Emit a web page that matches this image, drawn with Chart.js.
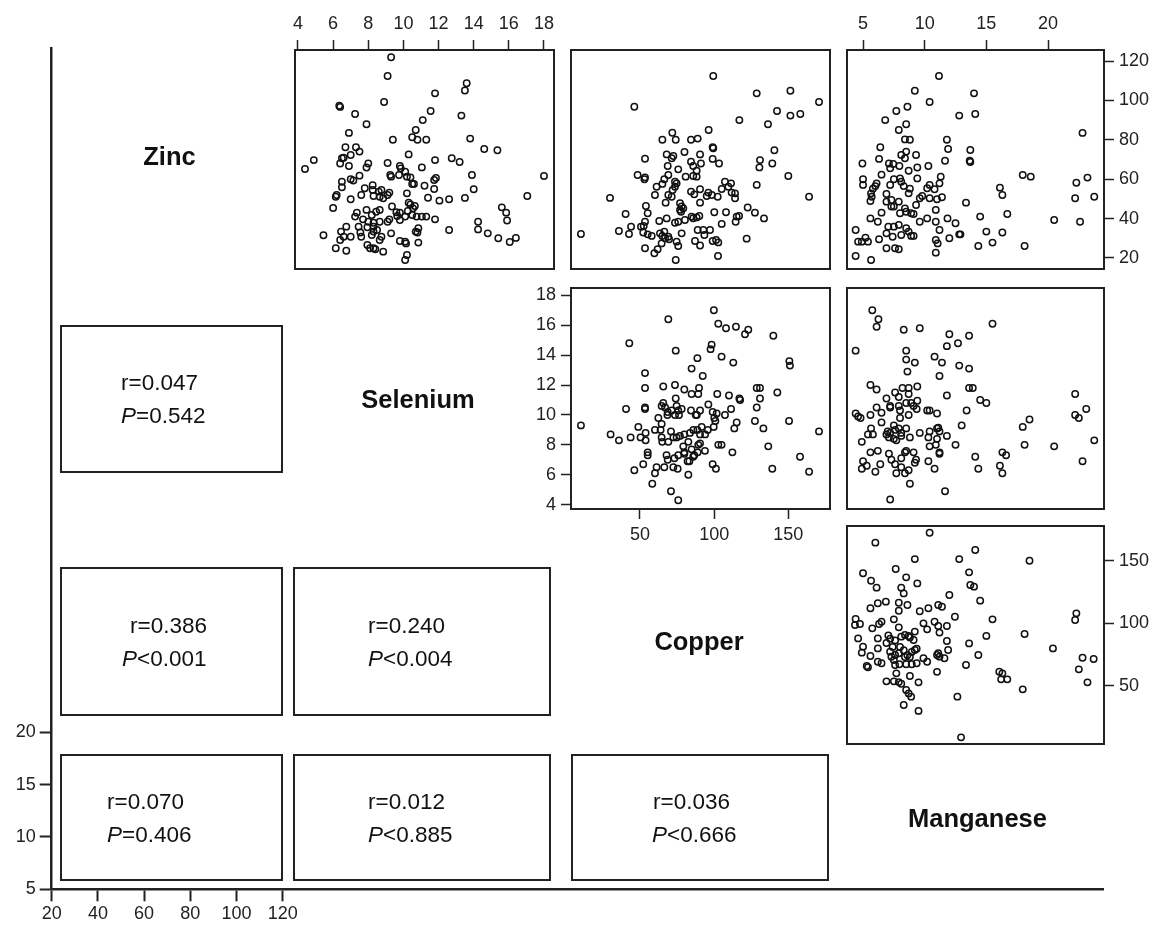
<!DOCTYPE html>
<html>
<head>
<meta charset="utf-8">
<script src="https://cdn.jsdelivr.net/npm/chart.js@4/dist/chart.umd.min.js"></script>
<style>
  html, body { margin: 0; padding: 0; background: #fff; overflow: hidden; }
  #page { position: relative; width: 1153px; height: 925px; font-family: "Liberation Sans", Arial, sans-serif; color: #111; }
  canvas { position: absolute; }
  .box { position: absolute; border: 2px solid #222; box-sizing: border-box; }
  .stat { position: absolute; font-size: 22.5px; line-height: 26px; white-space: nowrap; }
  .name { position: absolute; width: 240px; text-align: center; font-size: 25.5px; font-weight: bold; line-height: 30px; }
</style>
</head>
<body>
<div id="page"></div>
<script>
// variable names and the stats shown in the lower triangle
let variables = ["Zinc", "Selenium", "Copper", "Manganese"];
let stats = [
    {row: 1, col: 0, r: "0.047", p: "=0.542"},
    {row: 2, col: 0, r: "0.386", p: "<0.001"},
    {row: 2, col: 1, r: "0.240", p: "<0.004"},
    {row: 3, col: 0, r: "0.070", p: "=0.406"},
    {row: 3, col: 1, r: "0.012", p: "<0.885"},
    {row: 3, col: 2, r: "0.036", p: "<0.666"}
];

// tick labels
let seleniumTicks = [4, 6, 8, 10, 12, 14, 16, 18];
let zincTicks = [20, 40, 60, 80, 100, 120];
let copperTicks = [50, 100, 150];
let manganeseTicks = [5, 10, 15, 20];
let outerXTicks = [20, 40, 60, 80, 100, 120];
let outerYTicks = [5, 10, 15, 20];

// [selenium, zinc]
let zincSelenium = [[9.3,121.9],[9.1,112.4],[13.6,108.7],[13.5,105],[11.8,103.6],[8.9,99.2],[6.35,97.3],[6.4,96.7],[7.25,93.1],[11.55,94.6],[13.3,92.3],[11.1,90],[7.9,87.9],[6.9,83.5],[10.7,85],[10.5,81.3],[10.8,80],[11.3,80],[9.4,80],[13.8,80.6],[14.6,75.3],[15.35,74.7],[6.7,76.2],[7.3,76.2],[7.5,74],[7.0,72.3],[6.5,70.6],[6.6,70.9],[6.4,68],[6.9,66.7],[4.4,65.2],[4.9,69.7],[10.3,72.6],[8.0,68],[7.9,65.9],[9.1,68.2],[9.8,66.7],[9.85,65.5],[11.05,66],[11.8,69.7],[12.75,70.6],[13.2,68.7],[13.9,62.1],[14.0,54.9],[18.0,61.6],[17.05,51.5],[9.25,62.1],[9.3,61.3],[9.75,62.1],[10.1,63.8],[10.2,61.3],[10.4,60.9],[10.5,57.6],[10.6,57.6],[11.85,60.6],[11.75,59.6],[11.2,56.7],[11.75,55],[6.5,58.7],[7.0,60],[7.5,61.8],[7.15,59.3],[6.5,55.9],[6.2,52],[6.15,51.1],[7.6,52],[7.8,55.4],[8.25,56.9],[8.25,54.5],[8.6,53.7],[8.75,54.5],[8.65,51.1],[8.85,50.3],[9.1,52],[9.2,53.2],[8.3,51.5],[7.0,49.8],[6.0,45.4],[10.2,52.8],[10.3,48.1],[10.4,47.2],[10.65,46.4],[10.55,45.2],[10.25,43.9],[11.4,50.6],[12.05,49.1],[12.6,49.8],[13.5,50.5],[9.35,46.1],[9.6,43.2],[9.8,43],[9.65,41.3],[9.2,39.6],[9.1,38.4],[9.8,39.3],[10.1,41],[10.5,41.8],[10.75,41],[11.05,41],[11.3,41],[11.8,39.6],[7.35,43],[7.25,41],[7.7,39.6],[7.9,44.4],[8.2,41.8],[8.45,43.5],[8.65,44.4],[8.0,38.4],[8.3,37.9],[8.65,38.4],[8.3,35.9],[8.5,34.2],[7.95,35.6],[7.45,35.9],[7.55,32.9],[6.75,35.9],[6.45,33.4],[6.6,30.8],[7.0,30.8],[6.4,29.1],[6.15,24.9],[6.75,23.7],[7.6,30.8],[8.3,33.4],[8.2,31.7],[8.65,29.1],[8.75,30.8],[7.95,26.6],[8.1,24.9],[8.3,24.9],[8.4,24.4],[8.85,23.2],[9.3,32.5],[9.8,28.6],[10.1,28.3],[10.15,27.4],[10.85,27.8],[10.7,33.4],[10.8,32.9],[10.85,35.1],[10.2,21.5],[10.1,19],[5.45,31.5],[12.6,34.2],[15.6,45.7],[15.85,43],[15.9,39],[14.25,38.4],[14.25,34.5],[14.8,32.5],[15.4,30],[16.05,28.1],[16.4,30.2]];

// [copper, zinc]
let zincCopper = [[99.4,112.4],[128.7,103.6],[151.4,104.9],[170.7,99.2],[46.2,96.8],[142.4,94.6],[151.4,92.3],[158.1,93.1],[117,90],[136.3,87.9],[96.3,85],[71.8,83.6],[65.1,80],[74.1,80],[84.4,80],[88.9,80.6],[99,76.2],[99.4,75.7],[80,73.8],[140.6,74.7],[53.4,70.4],[68,72.6],[71.4,70.6],[72.5,71.8],[90.5,72.6],[99,70.3],[103.3,68],[84.4,68.9],[85.9,66.7],[91.1,68],[68.7,66.7],[75.8,65],[88.2,64.3],[130.9,69.7],[130.5,66],[139.2,68],[48.4,62.1],[53.4,60.9],[53,60],[69.1,62.1],[66.4,60],[73.6,58.7],[74.7,57.9],[80.8,61.3],[85.9,61.6],[88.2,61.3],[61.2,56.2],[60.1,52],[65.1,57.6],[73.6,56.2],[72,54.5],[69.1,52],[67.3,48.1],[71.4,51.1],[77,47.8],[78.1,46.1],[79.2,45.2],[84.4,53.7],[86.6,52.3],[90.5,54.9],[90.5,48.1],[95,51.5],[96.1,53.2],[98.4,52],[102.4,51.1],[107.3,58.7],[109.6,56.2],[111.4,57.9],[105.1,55],[111.8,53.2],[114.1,52.8],[114.1,50.3],[128.7,57.1],[150,61.6],[164,51.1],[29.8,50.5],[40.3,42.3],[54,46.4],[55.2,42.7],[53.4,38.4],[50.7,35.9],[52.5,36.2],[63,38.8],[68,40.1],[73.6,37.9],[75.8,38.4],[77,44.4],[77.7,43.5],[80.3,39.3],[84.8,41],[85.9,40.2],[88.2,40.6],[90,41.3],[100.1,43.2],[108,43.2],[105.1,37.3],[115.2,41],[116.8,41.3],[114.5,38.4],[122.6,45.6],[127.5,43],[133.6,40.1],[10.2,32.2],[35.8,33.7],[42.6,32.2],[44,35.9],[52.2,32.9],[57.9,31.2],[55.2,32],[65.1,31.2],[66.9,30],[69.1,30.8],[69.6,29.5],[64.6,27.4],[61.9,24.4],[59.7,22.4],[53.4,24.9],[78.1,32.5],[74.7,28.3],[75.8,26.1],[87.1,28.6],[88.9,34.2],[90.5,26.3],[92.7,34.2],[97.2,34.2],[93.4,31.7],[99,28.6],[101.3,29.1],[102.8,27.9],[121.9,29.8],[102.6,21],[74.1,19],[63.5,32.5],[66.4,33.4]];

// [manganese, zinc]
let zincManganese = [[11.16,112.4],[9.2,104.9],[14,103.6],[10.4,99.2],[8.6,96.8],[7.7,94.6],[6.8,90],[12.8,92.3],[14.1,93.1],[8.5,87.9],[7.9,85],[8.4,80.2],[8.8,80],[11.8,80],[6.4,76.2],[11.9,75.3],[13.7,74.8],[13.65,69.4],[13.7,68.7],[8.1,72.3],[8.5,74],[8.4,70.6],[9.3,72.3],[6.3,70.3],[4.95,68],[11.65,69.4],[10.3,66.7],[7.1,68],[7.45,67.7],[7.2,65.5],[7.95,66.7],[8.7,64.3],[9.4,65.9],[5.0,60],[5.0,57.1],[6.5,62.3],[6.1,57.9],[6.0,56.5],[5.8,55.2],[5.65,52.8],[5.7,51.1],[5.6,48.9],[7.2,57.1],[7.5,60],[8.0,60.4],[8.1,58.7],[8.3,56.5],[8.8,55.2],[8.7,52.8],[9.4,60.4],[11.3,61.3],[11.2,57.9],[10.4,57.1],[10.2,55.4],[10.8,54.9],[6.9,52.5],[6.9,48.6],[7.3,49.4],[7.5,46.1],[7.9,48.6],[7.3,46.1],[8.4,45.2],[8.0,42.7],[8.5,43.5],[8.9,42.7],[9.1,42.3],[9.3,46.9],[9.6,50.3],[9.8,51.5],[10.4,50.3],[11.0,49.8],[11.4,50.8],[9.6,38.4],[10.2,40.1],[10.9,44.4],[10.9,38.4],[5.6,40.1],[6.2,38.4],[6.5,43],[7.05,35.9],[7.5,35.9],[7.9,36.8],[8.5,35.1],[8.7,33.4],[9.1,31.2],[8.9,31.2],[8.1,31.7],[7.4,30.8],[6.9,32.5],[6.3,29.5],[6.9,24.9],[7.6,24.9],[7.9,24.4],[4.4,34.2],[4.6,28.3],[4.9,28.3],[5.4,28.3],[5.2,30.3],[4.4,21],[5.65,19],[11.2,34.2],[10.9,29.1],[11.05,27.4],[12.0,30],[12.5,37.6],[12.8,32],[12.9,32],[10.9,22.7],[11.85,40.1],[13.35,48.1],[14.5,41],[15.0,33.4],[15.5,27.8],[14.35,26.1],[16.1,55.7],[16.3,52],[16.7,42.3],[16.3,32.9],[17.95,62.1],[18.6,61.3],[18.1,26.1],[20.5,39.3],[22.3,58.2],[23.2,60.8],[22.2,50.3],[23.75,51.1],[22.6,38.4],[22.8,83.5]];

// [copper, selenium]
let seleniumCopper = [[99.8,17.0],[69.1,16.4],[102.8,16.1],[108,15.8],[114.7,15.9],[120.8,15.4],[123,15.7],[139.9,15.3],[42.8,14.8],[74.1,14.3],[98.3,14.7],[97.6,14.4],[105,13.9],[112.9,13.5],[88.7,13.8],[84.8,13.1],[92.3,12.6],[150.7,13.6],[151.1,13.3],[53.4,12.8],[53.4,11.8],[65.7,11.9],[73.6,12.0],[79.9,11.7],[84.8,11.4],[89.8,11.8],[89.3,11.4],[102.1,11.4],[110,11.3],[117,11.1],[117.5,11.0],[128.7,11.8],[130.9,11.8],[130.9,11.1],[142.6,11.5],[128.7,10.5],[40.6,10.4],[53.4,10.5],[53.4,10.4],[64.6,10.6],[66.9,10.5],[65.7,10.8],[68.7,10.2],[71.4,10.3],[74.1,11.1],[74.7,10.6],[75.8,10.3],[78.1,10.4],[73.6,10.0],[76.3,10.0],[62.4,9.8],[64.6,9.4],[68.5,10.0],[84.4,10.3],[87.6,10.0],[88.3,10.0],[90.5,10.3],[96.1,10.7],[99,10.2],[100.1,9.8],[101.7,10.1],[107.3,10.0],[111.4,10.4],[115.2,9.5],[113.6,9.1],[127.5,9.6],[133.2,9.1],[150.5,9.6],[10.2,9.3],[30.2,8.7],[35.8,8.3],[43.7,8.5],[48.9,9.2],[50.4,8.5],[53.8,8.8],[53.8,8.3],[60.1,9.0],[63.9,9.0],[64.6,8.5],[65,8.2],[70.9,8.9],[72.5,8.5],[69.1,8.2],[74.7,8.5],[76.9,8.6],[79.9,8.7],[82.6,8.2],[79.2,7.9],[83.7,8.8],[86,9.0],[88.7,9.0],[90.5,8.7],[91.6,9.2],[95.7,9.0],[93.9,8.7],[99.7,9.2],[100.8,9.6],[89.3,8.0],[90.5,8.1],[84.8,7.7],[86.6,7.3],[88.9,7.5],[93.8,7.6],[102.8,8.0],[105,8.0],[112.3,7.5],[136.5,7.9],[55.2,7.5],[55.2,7.3],[52.2,6.7],[46.2,6.3],[60.1,6.1],[61.2,6.5],[58.3,5.4],[66.4,6.5],[67.9,7.3],[68.7,7.0],[72.5,6.5],[73.2,7.1],[75.8,7.3],[75.4,6.4],[79.9,7.5],[79.9,7.4],[82.6,6.0],[82.1,6.9],[83.3,6.9],[85.9,7.2],[70.9,4.9],[75.8,4.3],[99,6.7],[101.2,6.4],[139.2,6.4],[157.9,7.2],[164,6.2],[170.7,8.9]];

// [manganese, selenium]
let seleniumManganese = [[5.75,17.0],[6.25,16.4],[6.1,15.9],[8.3,15.7],[9.6,15.8],[15.5,16.1],[12.0,15.4],[13.6,15.3],[12.7,14.8],[11.8,14.6],[4.4,14.3],[8.5,14.3],[8.5,13.7],[9.2,13.5],[10.8,13.9],[11.4,13.5],[12.8,13.3],[13.6,13.1],[8.6,12.9],[11.2,12.6],[5.6,12.0],[6.1,11.7],[8.2,11.8],[8.7,11.8],[9.4,11.9],[7.6,11.5],[7.9,11.2],[6.9,11.1],[8.7,11.4],[13.6,11.8],[13.9,11.8],[11.8,11.3],[14.5,11.0],[15.0,10.8],[9.4,10.95],[8.9,10.8],[9.1,10.6],[9.35,10.4],[8.5,10.8],[6.1,10.5],[7.2,10.5],[7.2,10.6],[7.9,10.6],[8.0,10.3],[6.5,10.15],[5.6,10.0],[4.4,10.1],[4.6,9.9],[4.8,9.8],[10.2,10.3],[10.4,10.3],[11.0,10.1],[13.4,10.3],[8.7,10.0],[8.0,9.8],[7.5,9.3],[6.5,9.5],[7.9,9.1],[8.5,9.1],[8.8,8.5],[8.1,8.8],[7.6,9.0],[7.2,8.8],[7.0,8.9],[6.9,8.7],[7.1,8.5],[7.5,8.4],[7.7,8.3],[8.1,8.6],[5.65,9.1],[5.4,8.7],[5.8,8.7],[4.9,8.2],[9.6,8.8],[10.3,8.5],[10.4,8.9],[11.0,9.1],[11.1,9.15],[11.2,8.9],[11.0,8.4],[10.9,8.0],[10.4,7.9],[11.2,7.5],[11.2,7.4],[11.8,8.6],[12.5,8.0],[13.0,9.3],[5.6,7.5],[6.2,7.6],[5.0,6.9],[5.3,6.6],[4.9,6.4],[6.0,6.2],[6.4,6.7],[7.1,7.4],[7.3,7.0],[7.6,6.7],[8.1,7.1],[8.4,7.5],[8.5,7.6],[9.1,7.5],[9.3,7.0],[9.2,6.8],[8.1,6.5],[7.7,6.1],[8.4,6.1],[8.7,6.3],[8.8,5.4],[10.3,6.9],[10.8,6.4],[7.2,4.35],[11.65,4.9],[14.1,7.2],[14.35,6.4],[16.3,7.5],[16.6,7.3],[16.1,6.6],[16.3,6.1],[17.95,9.2],[18.5,9.7],[18.1,8.0],[20.5,7.9],[22.2,11.4],[23.1,10.4],[22.2,10.0],[22.5,9.8],[23.75,8.3],[22.8,6.9]];

// [manganese, copper]
let copperManganese = [[10.4,172.3],[6.0,164.4],[14.1,158.5],[9.2,151.3],[12.8,151.3],[18.5,150],[7.65,143.4],[5.0,140],[5.65,134],[6.1,128.5],[8.5,136.7],[9.4,131.9],[13.6,140.7],[13.7,130.6],[14.0,129.3],[8.1,128.5],[8.3,123.9],[12.0,122.6],[14.5,118.1],[6.2,116],[6.85,117.3],[5.6,112],[7.9,116.5],[8.6,114.6],[7.9,110],[10.3,112],[11.1,114.6],[11.4,113.3],[9.6,109.6],[4.4,103.5],[4.35,98.7],[4.75,99.5],[5.75,96],[6.5,101.3],[6.3,99.5],[7.5,103.2],[7.9,96.8],[9.9,100],[10.2,95.2],[10.8,101.3],[11.1,97.9],[11.8,97.9],[12.45,105.3],[11.2,92.6],[15.5,103.2],[15.0,90],[13.6,84],[14.35,74.7],[18.1,91.5],[20.4,80],[22.3,108],[22.2,102.7],[22.8,72.6],[22.5,63.3],[23.2,52.9],[23.7,71.5],[4.6,88],[5.0,81.4],[4.9,76.6],[5.6,73.9],[5.3,66],[5.4,64.9],[6.2,88],[6.2,80],[6.2,69.4],[6.5,68.1],[7.05,90.4],[6.9,84.3],[7.2,87.8],[7.6,86.4],[7.4,81.1],[7.2,77.4],[7.3,73.4],[7.6,74.7],[7.9,76.1],[8.1,89.4],[8.4,90.7],[8.7,89.9],[8.8,88.8],[9.2,93.4],[9.1,86.7],[9.2,78.7],[8.0,81.1],[8.3,78.5],[8.4,73.1],[8.6,74.5],[8.8,73.1],[8.95,77.1],[9.35,79.8],[7.5,70.7],[7.6,66.7],[7.95,67.3],[8.5,67.3],[8.95,67.3],[9.35,68.1],[9.9,72.1],[10.2,69.4],[11.0,74.7],[11.1,76.1],[11.2,73.4],[11.8,85.9],[11.9,78.7],[11.6,72.1],[11.0,61.3],[6.9,53.7],[7.5,53.7],[7.9,53.1],[8.1,51.8],[7.7,60.1],[8.8,58],[9.5,52.9],[8.5,46.8],[8.7,44.1],[8.9,41.5],[8.3,34.8],[9.5,30.1],[13.35,66.8],[12.65,41.5],[12.95,9],[16.05,61.4],[16.3,60.1],[16.2,55.3],[16.7,55.3],[17.95,47.3]];

// axis ranges for each variable
let seleniumRange = [3.83, 18.57];
let seleniumRangeY = [3.71, 18.49];
let zincRange = [14.4, 125.6];
let copperRange = [3.5, 178.1];
let copperRangeY = [3.7, 177.7];
let manganeseRange = [3.7, 24.54];

// grid geometry
let colX = [[50, 283], [295, 554], [571, 830], [847, 1104]];
let rowY = [[50, 269], [288, 509], [526, 744], [754, 881]];
let M = 60;
let ink = "#222";

Chart.defaults.font.family = '"Liberation Sans", Arial, sans-serif';
Chart.defaults.color = ink;

let page = document.getElementById("page");

function addCanvas(left, top, w, h) {
    let c = document.createElement("canvas");
    c.width = w;
    c.height = h;
    c.style.left = left + "px";
    c.style.top = top + "px";
    page.appendChild(c);
    return c;
}

let framePlugin = {
    id: "frame",
    afterDraw(chart) {
        let a = chart.chartArea;
        let ctx = chart.ctx;
        ctx.save();
        ctx.strokeStyle = ink;
        ctx.lineWidth = 2;
        ctx.strokeRect(a.left, a.top, a.right - a.left, a.bottom - a.top);
        ctx.restore();
    }
};

function axis(range, side, ticks, size) {
    return {
        type: "linear",
        position: side,
        min: range[0],
        max: range[1],
        display: !!ticks,
        afterBuildTicks: s => { if (ticks) s.ticks = ticks.map(v => ({value: v})); },
        afterFit: s => {
            if (!ticks) return;
            if (side == "left" || side == "right") s.width = size;
            else s.height = size;
        },
        grid: {display: true, drawOnChartArea: false, drawTicks: true, tickLength: 10, tickColor: ink, tickWidth: 1.5},
        border: {display: false},
        ticks: {color: ink, font: {size: 18}, padding: 5, maxRotation: 0, autoSkip: false}
    };
}

function panel(row, col, points, xRange, xSide, xTicks, yRange, ySide, yTicks) {
    let x0 = colX[col][0], x1 = colX[col][1];
    let y0 = rowY[row][0], y1 = rowY[row][1];
    let canvas = addCanvas(x0 - M, y0 - M, x1 - x0 + 2 * M, y1 - y0 + 2 * M);
    let pad = side => {
        if (side == xSide && xTicks) return 0;
        if (side == ySide && yTicks) return 0;
        return M;
    };
    new Chart(canvas, {
        type: "scatter",
        data: {
            datasets: [{
                data: points.map(p => ({x: p[0], y: p[1]})),
                pointStyle: "circle",
                pointRadius: 3.2,
                pointBorderWidth: 1.5,
                borderColor: "#111",
                backgroundColor: "rgba(0,0,0,0)"
            }]
        },
        options: {
            responsive: false,
            animation: false,
            layout: {padding: {left: pad("left"), right: pad("right"), top: pad("top"), bottom: pad("bottom")}},
            plugins: {legend: {display: false}, tooltip: {enabled: false}},
            scales: {
                x: axis(xRange, xSide, xTicks, M),
                y: axis(yRange, ySide, yTicks, M)
            }
        },
        plugins: [framePlugin]
    });
}

// outer axes spanning the whole figure
let outer = addCanvas(0, 0, 1153, 925);
new Chart(outer, {
    type: "scatter",
    data: {datasets: [{data: []}]},
    options: {
        responsive: false,
        animation: false,
        layout: {padding: {left: 0, right: 50, top: 48, bottom: 0}},
        plugins: {legend: {display: false}, tooltip: {enabled: false}},
        scales: {
            x: {
                type: "linear", position: "bottom", min: 20, max: 475.1,
                afterBuildTicks: s => { s.ticks = outerXTicks.map(v => ({value: v})); },
                afterFit: s => { s.height = 35.7; },
                grid: {display: true, drawOnChartArea: false, tickLength: 12, tickColor: ink, tickWidth: 2},
                border: {display: true, color: ink, width: 2.5},
                ticks: {color: ink, font: {size: 18}, padding: 2, maxRotation: 0, autoSkip: false}
            },
            y: {
                type: "linear", position: "left", min: 5, max: 85.4,
                afterBuildTicks: s => { s.ticks = outerYTicks.map(v => ({value: v})); },
                afterFit: s => { s.width = 51.7; },
                grid: {display: true, drawOnChartArea: false, tickLength: 12, tickColor: ink, tickWidth: 2},
                border: {display: true, color: ink, width: 2.5},
                ticks: {color: ink, font: {size: 18}, padding: 4, autoSkip: false}
            }
        }
    }
});

// upper triangle scatter panels
panel(0, 1, zincSelenium, seleniumRange, "top", seleniumTicks, zincRange, "left", null);
panel(0, 2, zincCopper, copperRange, "bottom", null, zincRange, "left", null);
panel(0, 3, zincManganese, manganeseRange, "top", manganeseTicks, zincRange, "right", zincTicks);
panel(1, 2, seleniumCopper, copperRange, "bottom", copperTicks, seleniumRangeY, "left", seleniumTicks);
panel(1, 3, seleniumManganese, manganeseRange, "bottom", null, seleniumRangeY, "left", null);
panel(2, 3, copperManganese, manganeseRange, "bottom", null, copperRangeY, "right", copperTicks);

// lower triangle boxes with correlation text
let boxX = [[60, 283], [293, 551], [571, 829]];
let boxY = {1: [325, 473], 2: [567, 716], 3: [754, 881]};
// left edge of the r line and of the P line in each box
let textX = {"1,0": [121, 121], "2,0": [130, 122], "2,1": [368, 368], "3,0": [107, 107], "3,1": [368, 368], "3,2": [653, 652]};
stats.forEach(s => {
    let bx = boxX[s.col], by = boxY[s.row];
    let d = document.createElement("div");
    d.className = "box";
    d.style.left = bx[0] + "px";
    d.style.top = by[0] + "px";
    d.style.width = (bx[1] - bx[0]) + "px";
    d.style.height = (by[1] - by[0]) + "px";
    page.appendChild(d);
    let cy = (by[0] + by[1]) / 2;
    let tx = textX[s.row + "," + s.col];
    let l1 = document.createElement("div");
    l1.className = "stat";
    l1.style.left = tx[0] + "px";
    l1.style.top = (cy - 16 - 13) + "px";
    l1.textContent = "r=" + s.r;
    page.appendChild(l1);
    let l2 = document.createElement("div");
    l2.className = "stat";
    l2.style.left = tx[1] + "px";
    l2.style.top = (cy + 17 - 13) + "px";
    l2.innerHTML = "<i>P</i>" + s.p;
    page.appendChild(l2);
});

// diagonal variable names
let nameCenters = [[169.5, 156], [418, 399], [699, 641], [977.5, 818]];
variables.forEach((v, i) => {
    let d = document.createElement("div");
    d.className = "name";
    d.style.left = (nameCenters[i][0] - 120) + "px";
    d.style.top = (nameCenters[i][1] - 15) + "px";
    d.textContent = v;
    page.appendChild(d);
});
</script>
</body>
</html>
